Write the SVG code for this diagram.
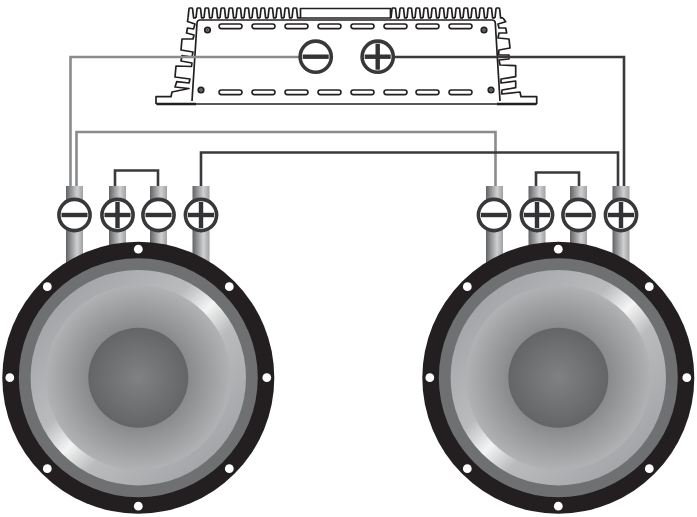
<svg xmlns="http://www.w3.org/2000/svg" xmlns:xlink="http://www.w3.org/1999/xlink" width="697" height="517" viewBox="0 0 697 517">
<style>
.amp{fill:none;stroke:#231f20;stroke-width:1.7;stroke-linejoin:round}
.slot{fill:#fff;stroke:#231f20;stroke-width:1.6}
.gw{fill:none;stroke:#8a8b8d;stroke-width:2.6}
.dw{fill:none;stroke:#3a3a3c;stroke-width:2.6}
.tb{fill:url(#tube)}
.tc{fill:#fff;stroke:#38383a;stroke-width:3.6}
.bar{fill:#333335}
.hole{fill:#fff}
</style>
<defs>
<linearGradient id="tube"><stop offset="0" stop-color="#626365"/><stop offset=".65" stop-color="#cfd0d1"/><stop offset="1" stop-color="#a0a1a3"/></linearGradient>
<linearGradient id="ring" x1=".15" y1=".15" x2=".85" y2=".85"><stop offset="0" stop-color="#a4a6a9"/><stop offset=".36" stop-color="#b9bbbd"/><stop offset=".5" stop-color="#f4f4f4"/><stop offset=".64" stop-color="#b9bbbd"/><stop offset="1" stop-color="#a4a6a9"/></linearGradient>
<radialGradient id="cone"><stop offset=".5" stop-color="#868789"/><stop offset="1" stop-color="#b0b2b4"/></radialGradient>
<radialGradient id="cap"><stop offset="0" stop-color="#808183"/><stop offset="1" stop-color="#646567"/></radialGradient>
<path id="fin" class="amp" d="M0,9.5 l1,-9 q.2,-.8 1,-.8 h1.6 q.8,0 1,.8 l1,9 h2.4"/>
<g id="fins"><use xlink:href="#fin" href="#fin"/><use xlink:href="#fin" href="#fin" x="8"/><use xlink:href="#fin" href="#fin" x="16"/><use xlink:href="#fin" href="#fin" x="24"/><use xlink:href="#fin" href="#fin" x="32"/><use xlink:href="#fin" href="#fin" x="40"/><use xlink:href="#fin" href="#fin" x="48"/><use xlink:href="#fin" href="#fin" x="56"/><use xlink:href="#fin" href="#fin" x="64"/><use xlink:href="#fin" href="#fin" x="72"/><use xlink:href="#fin" href="#fin" x="80"/><use xlink:href="#fin" href="#fin" x="88"/><use xlink:href="#fin" href="#fin" x="96"/><use xlink:href="#fin" href="#fin" x="104"/></g>
<rect id="s" class="slot" width="23" height="4.6" rx="2.3"/>
<g id="screw"><circle r="3.6" fill="#231f20"/><circle r="1.8" fill="#8a8b8d"/><circle r=".8" fill="#231f20"/></g>
<g id="minus"><circle class="tc" r="15.6"/><rect class="bar" x="-13" y="-2.2" width="26" height="4.4"/></g>
<g id="plus"><circle class="tc" r="15.6"/><rect class="bar" x="-13" y="-2.2" width="26" height="4.4"/><rect class="bar" x="-2.2" y="-13" width="4.4" height="26"/></g>
<g id="speaker">
<circle r="136" fill="#231f20"/>
<circle r="119.5" fill="#6f7072"/>
<circle r="107.7" fill="url(#ring)"/>
<circle r="92.5" fill="url(#cone)"/>
<circle r="50" fill="url(#cap)"/>
<circle class="hole" cy="-128.5" r="4.4"/><circle class="hole" cy="128.5" r="4.4"/><circle class="hole" cx="-128.5" r="4.4"/><circle class="hole" cx="128.5" r="4.4"/>
<circle class="hole" cx="-91" cy="-91" r="4.4"/><circle class="hole" cx="91" cy="-91" r="4.4"/><circle class="hole" cx="-91" cy="91" r="4.4"/><circle class="hole" cx="91" cy="91" r="4.4"/>
</g>
</defs>
<g id="amplifier">
<use xlink:href="#fins" href="#fins" x="188" y="8.3"/>
<use xlink:href="#fins" href="#fins" x="391" y="8.3"/>
<rect class="amp" x="300.5" y="8.5" width="90" height="9.5"/>
<path class="amp" d="M188,18 L187.5,21.5 L195,24 L193.5,29 L187.5,28 L186.5,33 L194,35 L193,39 L182,39 L181,50 L193,52 L192,57 L182,55.5 L181,61 L192,63 L191.5,66.5 L176,66 L175,77 L190,79 L189,83 L176.7,81.7 L175,87 L189,88.5 L172,92 L171,96.7 L156,96.7 L156,104"/>
<path class="amp" d="M503,18 L505.7,21.7 L498,24 L499,28 L505.7,28 L506.7,33 L499,33 L498,38 L509,39 L510,48 L499,50 L498.5,55 L509,55 L509,59 L499,60 L500,65 L515.7,65.7 L515.7,76.7 L501,79 L501,83 L515.7,81 L515.7,87.7 L502,90 L501.7,94 L520,92 L521,96.7 L536.7,96.7 L536.7,104"/>
<path class="amp" d="M192,101 L197,23 Q197.3,20 200,20 H492 Q495,20 495.3,23 L500,101"/>
<path class="amp" d="M156,104 H537"/>
<path d="M157,104 H196 M497,104 H536" stroke="#231f20" stroke-width="2.4" fill="none"/>
<use xlink:href="#s" href="#s" x="219" y="24"/><use xlink:href="#s" href="#s" x="252" y="24"/><use xlink:href="#s" href="#s" x="285" y="24"/><use xlink:href="#s" href="#s" x="318" y="24"/><use xlink:href="#s" href="#s" x="351" y="24"/><use xlink:href="#s" href="#s" x="384" y="24"/><use xlink:href="#s" href="#s" x="416" y="24"/><use xlink:href="#s" href="#s" x="449" y="24"/>
<use xlink:href="#s" href="#s" x="219" y="90"/><use xlink:href="#s" href="#s" x="252" y="90"/><use xlink:href="#s" href="#s" x="285" y="90"/><use xlink:href="#s" href="#s" x="318" y="90"/><use xlink:href="#s" href="#s" x="351" y="90"/><use xlink:href="#s" href="#s" x="384" y="90"/><use xlink:href="#s" href="#s" x="416" y="90"/><use xlink:href="#s" href="#s" x="449" y="90"/>
<use xlink:href="#screw" href="#screw" x="207.5" y="30"/><use xlink:href="#screw" href="#screw" x="201" y="90"/><use xlink:href="#screw" href="#screw" x="484" y="30"/><use xlink:href="#screw" href="#screw" x="491" y="90"/>
</g>
<g id="connectors">
<path class="gw" d="M300,57 H70.5 V187"/>
<path class="gw" d="M76.5,187 V132 H495.5 V187"/>
<path class="dw" d="M394,57 H624 V187"/>
<path class="dw" d="M201,187 V152.5 H618 V187"/>
<path class="dw" d="M115,187 V170.5 H158 V187"/>
<path class="dw" d="M536,187 V172.5 H579 V187"/>
</g>
<g id="amp-minus"><use xlink:href="#minus" href="#minus" x="315.7" y="56.7"/></g>
<g id="amp-plus"><use xlink:href="#plus" href="#plus" x="377.7" y="56.7"/></g>
<g id="left-speaker">
<rect class="tb" x="66" y="186" width="17" height="80"/><rect class="tb" x="109" y="186" width="17" height="70"/><rect class="tb" x="150" y="186" width="17" height="70"/><rect class="tb" x="192.5" y="186" width="17" height="80"/>
<use xlink:href="#speaker" href="#speaker" x="138.3" y="377.7"/>
<use xlink:href="#minus" href="#minus" x="74.5" y="215"/><use xlink:href="#plus" href="#plus" x="117.5" y="215"/><use xlink:href="#minus" href="#minus" x="158.5" y="215"/><use xlink:href="#plus" href="#plus" x="201" y="215"/>
</g>
<g id="right-speaker">
<rect class="tb" x="486" y="186" width="17" height="80"/><rect class="tb" x="528.5" y="186" width="17" height="70"/><rect class="tb" x="570" y="186" width="17" height="70"/><rect class="tb" x="612.5" y="186" width="17" height="80"/>
<use xlink:href="#speaker" href="#speaker" x="558.3" y="377.7"/>
<use xlink:href="#minus" href="#minus" x="494" y="215"/><use xlink:href="#plus" href="#plus" x="537" y="215"/><use xlink:href="#minus" href="#minus" x="578.5" y="215"/><use xlink:href="#plus" href="#plus" x="621" y="215"/>
</g>
</svg>
